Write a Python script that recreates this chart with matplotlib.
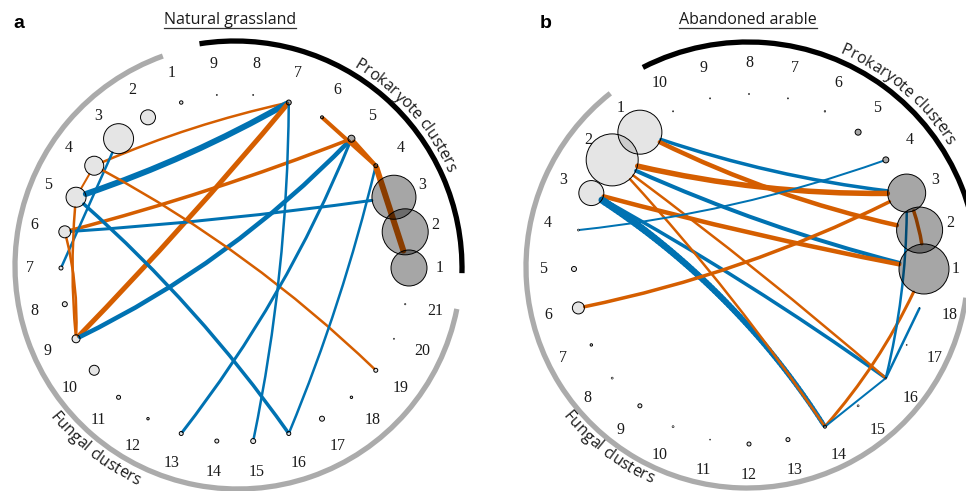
import numpy as np
import matplotlib.pyplot as plt
from matplotlib.patches import Circle, Arc, FancyArrowPatch
from matplotlib.collections import LineCollection
from matplotlib.font_manager import FontProperties
from matplotlib.lines import Line2D

ORANGE = '#D55E00'
BLUE = '#0072B2'
SIGN_COLOUR = {1: BLUE, -1: ORANGE}

# ---- Natural grassland network ----
# cluster circle radius (px) for prokaryote clusters 1..9 and fungal clusters 1..21
grass_prok = [18, 23, 22, 2, 3.5, 1.5, 2.5, 0.6, 0.6]
grass_fung = [1.7, 7.5, 15, 9.5, 10, 6, 2, 2.5, 4, 5, 2, 1.2, 2, 2, 2.5, 2, 2.5, 1.2, 2, 0.6, 0.7]
grass_src = ['F4', 'F5', 'F9', 'F9', 'F6', 'F6', 'F3', 'F5', 'F4', 'P7', 'P5', 'P4',
             'F9', 'F9', 'F5', 'P6', 'P5', 'P4']
grass_dst = ['P7', 'P7', 'P7', 'P5', 'P5', 'P3', 'F7', 'F16', 'F19', 'F15', 'F13', 'F16',
             'F6', 'F5', 'F4', 'P4', 'P4', 'P1']
grass_sign = [-1, 1, -1, 1, -1, 1, 1, 1, -1, 1, 1, 1, -1, -1, -1, -1, -1, -1]
grass_weight = [2.5, 6, 5, 4.5, 3.5, 3, 2.5, 3.5, 2.5, 2.5, 3, 2.5, 2.5, 2.5, 2, 4, 4, 6]

# ---- Abandoned arable network ----
arable_prok = [25, 23, 19, 3, 3, 0.8, 0.6, 0.6, 0.6, 0.6]
arable_fung = [22, 26, 12.5, 1, 2.5, 6, 1.2, 1, 2, 1, 0.5, 2, 2, 1.5, 1, 1, 0.5, 0.3]
arable_src = ['F1', 'F1', 'F2', 'F2', 'F3', 'F3', 'F3', 'F2', 'F2', 'F4', 'F6', 'F14',
              'F14', 'F16', 'F16', 'P3']
arable_dst = ['P3', 'P2', 'P3', 'P1', 'P1', 'F14', 'F16', 'F14', 'F16', 'P4', 'P3', 'P1',
              'F16', 'P3', 'F18', 'P1']
arable_sign = [1, -1, -1, 1, -1, 1, 1, -1, -1, 1, -1, -1, 1, 1, 1, -1]
arable_weight = [3.5, 4.5, 5.5, 4, 4.5, 10, 3.5, 2.5, 2.5, 2, 3.5, 3, 2, 2.5, 2.5, 3.5]

# edge bending (arc3 rad) for each link
grass_bend = [-0.05, 0.05, 0.02, 0.09, 0.03, 0.02, 0, -0.06, -0.07, -0.05, -0.07, -0.04,
              0.08, -0.05, 0, 0, 0, 0]
arable_bend = [0.06, 0.07, 0.07, 0.05, 0.02, -0.11, -0.03, -0.04, -0.02, 0.06, 0.07, 0.08,
               0, 0.065, 0, -0.1]
# links drawn narrowing towards their end: (source, target) -> end width (px)
arable_taper = {('F3', 'F14'): 4.5}

W, H = 966, 491
fig = plt.figure(figsize=(W / 100, H / 100), dpi=100)
renderer = fig.canvas.get_renderer()

SANS = 'Open Sans'
SERIF = 'Liberation Serif'


def arc_text(ax, s, centre, radius, mid, scale, outward, size=11.5):
    # lay characters one by one along a circle; radius is the baseline radius in px
    prop = FontProperties(family=SANS, size=size)
    wx = renderer.get_text_width_height_descent('x', prop, ismath=False)[0]

    def adv(p):
        return renderer.get_text_width_height_descent(p + 'x', prop, ismath=False)[0] - wx

    marks = [0.0] + [adv(s[:i + 1]) for i in range(len(s))]
    total = marks[-1]
    for i, ch in enumerate(s):
        if ch == ' ':
            continue
        pos = (marks[i] + marks[i + 1]) / 2 - total / 2
        if outward:
            th = np.radians(mid) - pos / radius
            rot = np.degrees(th) - 90
        else:
            th = np.radians(mid) + pos / radius
            rot = np.degrees(th) + 90
        x = centre[0] + radius * np.cos(th) / scale
        y = centre[1] + radius * np.sin(th) / scale
        ax.text(x, y, ch, fontproperties=prop, rotation=rot, rotation_mode='anchor',
                ha='center', va='baseline', color='#1a1a1a')


def draw_network(ax, prok, fung, src, dst, sign, weight, bend, scale, taper=None):
    taper = taper or {}
    n = len(prok) + len(fung)
    step = 360.0 / n
    nodes = {}
    for i, r in enumerate(prok):
        nodes['P%d' % (i + 1)] = (i * step, r, (0, 0, 0, 0.35))
    for j, r in enumerate(fung):
        nodes['F%d' % (j + 1)] = ((len(prok) + j) * step, r, (0, 0, 0, 0.1))

    patches = {}
    for key, (ang, r, fc) in nodes.items():
        a = np.radians(ang)
        xy = (np.cos(a), np.sin(a))
        lw = 0.7 if r > 1 else 0.4
        patches[key] = Circle(xy, r / scale, facecolor=fc, edgecolor='black', lw=lw, zorder=3)
        lx, ly = 1.178 * np.cos(a), 1.178 * np.sin(a)
        ax.text(lx, ly, key[1:], family=SERIF, size=11.5, ha='center', va='center',
                color='#1a1a1a')
    for p in patches.values():
        ax.add_patch(p)

    for s, d, sg, w, b in zip(src, dst, sign, weight, bend):
        pa, pb = patches[s], patches[d]
        arrow = FancyArrowPatch(pa.center, pb.center, arrowstyle='-',
                                connectionstyle='arc3,rad=%g' % b,
                                patchA=pa, patchB=pb, shrinkA=0, shrinkB=0,
                                color=SIGN_COLOUR[sg], lw=w * 0.72, zorder=2)
        ax.add_patch(arrow)
        if (s, d) in taper:
            # rebuild the clipped curve as short pieces of falling width
            arrow.set_visible(False)
            pts = np.vstack([seg(np.linspace(0, 1, 80))
                             for seg, _ in arrow.get_path().iter_bezier()])
            segs = np.stack([pts[:-1], pts[1:]], axis=1)
            widths = np.linspace(w, taper[(s, d)], len(segs)) * 0.72
            ax.add_collection(LineCollection(segs, linewidths=widths, colors=SIGN_COLOUR[sg],
                                             capstyle='round', zorder=2))


def make_axes(left_px, right_px, cx, cy, scale):
    ax = fig.add_axes([left_px / W, 0, (right_px - left_px) / W, 1])
    ax.set_xlim((left_px - cx) / scale, (right_px - cx) / scale)
    ax.set_ylim(-(H - cy) / scale, cy / scale)
    ax.axis('off')
    return ax


def ring_arc(ax, off, radius, t1, t2, colour, scale):
    ax.add_patch(Arc((off[0] / scale, off[1] / scale), 2 * radius / scale, 2 * radius / scale,
                     theta1=t1, theta2=t2, color=colour, lw=3.8, capstyle='butt', zorder=1))


# panel a
S_A = 174
ax_a = make_axes(0, 483, 235, 268, S_A)
draw_network(ax_a, grass_prok, grass_fung, grass_src, grass_dst, grass_sign,
             grass_weight, grass_bend, S_A)
ring_arc(ax_a, (3, 2), 223, 109.7, 348.9, '#ABABAB', S_A)
ring_arc(ax_a, (0, 0), 227, -1.3, 99, 'black', S_A)
arc_text(ax_a, 'Prokaryote clusters', (0, 0), 233, 41.8, S_A, outward=True)
arc_text(ax_a, 'Fungal clusters', (3 / S_A, 2 / S_A), 241, 232, S_A, outward=False)

# panel b
S_B = 175
ax_b = make_axes(483, 966, 749, 269, S_B)
draw_network(ax_b, arable_prok, arable_fung, arable_src, arable_dst, arable_sign,
             arable_weight, arable_bend, S_B, taper=arable_taper)
ring_arc(ax_b, (-2, 2), 221, 128.2, 352, '#ABABAB', S_B)
ring_arc(ax_b, (-1, -3), 230, -10, 117.2, 'black', S_B)
arc_text(ax_b, 'Prokaryote clusters', (0, 0), 234, 49.5, S_B, outward=True)
arc_text(ax_b, 'Fungal clusters', (-2 / S_B, 2 / S_B), 237, 232.5, S_B, outward=False)

# panel letters and underlined titles
fig.text(13 / W, 1 - 28 / H, 'a', family='Liberation Sans', weight='bold', size=14, va='baseline')
fig.text(540 / W, 1 - 28 / H, 'b', family='Liberation Sans', weight='bold', size=14, va='baseline')
for xc, title in [(230, 'Natural grassland'), (748, 'Abandoned arable')]:
    t = fig.text(xc / W, 1 - 24.5 / H, title, family=SANS, size=11.5, ha='center',
                 va='baseline', color='#1a1a1a')
    bb = t.get_window_extent(renderer)
    fig.add_artist(Line2D([bb.x0 / W, bb.x1 / W], [1 - 28 / H] * 2, color='#333333', lw=0.9))

fig.savefig('out.png', dpi=100)
